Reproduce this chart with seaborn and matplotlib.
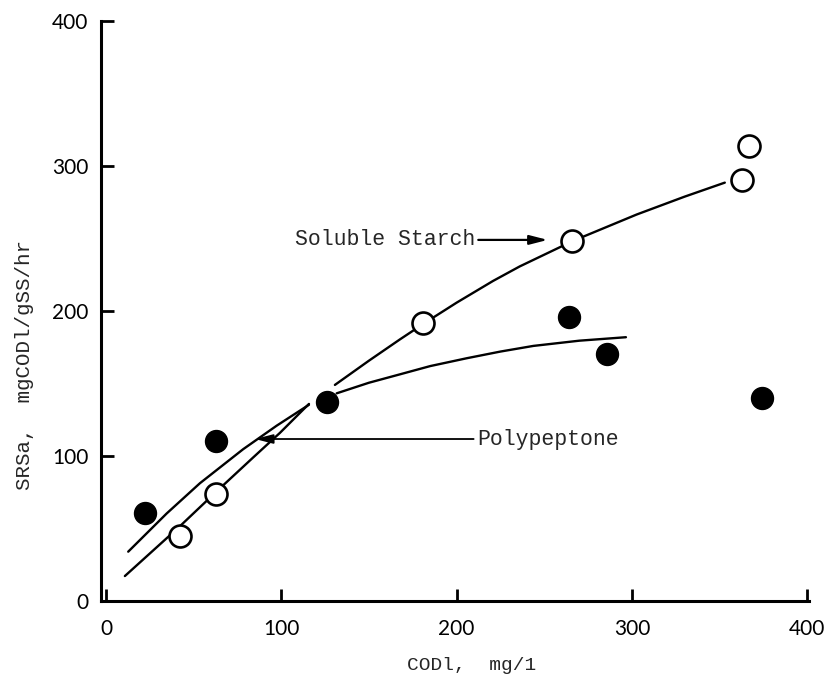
import matplotlib
matplotlib.use("Agg")
import matplotlib.pyplot as plt
import seaborn as sns

# --- data ---
starch_x = [42, 63, 181, 266, 363, 367]
starch_y = [45, 74, 192, 248, 290, 314]
pep_x = [22, 63, 126, 264, 286, 374]
pep_y = [61, 110, 137, 196, 170, 140]

# hand-drawn fitted curves, each in two pieces
starch_curve1_x = [10.8, 41.7, 63.5, 84, 99.3, 115.8]
starch_curve1_y = [17.2, 51, 76, 99, 116, 135.9]
starch_curve2_x = [130.6, 150, 167.7, 181.4, 200, 220.8, 236, 266.4, 302.7, 330, 353]
starch_curve2_y = [149, 165.7, 180.4, 191.4, 205.7, 220.7, 230.7, 248.3, 266.5, 278.8, 288.5]
pep_curve1_x = [12.7, 34.6, 53.6, 78.3, 97.4, 115.8]
pep_curve1_y = [34, 60.3, 81.2, 104.7, 120.9, 135.3]
pep_curve2_x = [131.6, 150, 167.7, 185, 205.8, 225, 243.8, 270, 296.6]
pep_curve2_y = [143.2, 150.5, 156.3, 162, 167.4, 172, 175.9, 179.5, 181.9]

x_ticks = [0, 100, 200, 300, 400]
y_ticks = [0, 100, 200, 300, 400]
x_label = "CODl,  mg/1"
y_label = "SRSa,  mgCODl/gSS/hr"
starch_label = "Soluble Starch"
pep_label = "Polypeptone"

sns.set_style("ticks")
plt.rcParams["font.family"] = ["Lato", "DejaVu Sans"]

fig = plt.figure(figsize=(8.28, 6.8), dpi=100)
ax = fig.add_axes([0.1216, 0.1162, 0.8554, 0.8530])

lw = 1.7
for cx, cy in [(starch_curve1_x, starch_curve1_y), (starch_curve2_x, starch_curve2_y),
               (pep_curve1_x, pep_curve1_y), (pep_curve2_x, pep_curve2_y)]:
    sns.lineplot(x=cx, y=cy, ax=ax, color="black", linewidth=lw, sort=False,
                 estimator=None, zorder=2)

sns.scatterplot(x=pep_x, y=pep_y, ax=ax, s=250, color="black",
                edgecolor="black", linewidth=1.0, zorder=3)
sns.scatterplot(x=starch_x, y=starch_y, ax=ax, s=250, facecolor="white",
                edgecolor="black", linewidth=1.9, zorder=3)

mono = "Liberation Mono"
ax.annotate(starch_label, xy=(252, 249), xytext=(210.5, 249),
            ha="right", va="center", fontsize=15.5, family=mono,
            arrowprops=dict(arrowstyle="-|>,head_length=0.7,head_width=0.18",
                            color="black", lw=1.6, shrinkA=0, shrinkB=0))
ax.annotate(pep_label, xy=(85, 111.7), xytext=(211.6, 111.7),
            ha="left", va="center", fontsize=15.5, family=mono,
            arrowprops=dict(arrowstyle="-|>,head_length=0.7,head_width=0.18",
                            color="black", lw=1.3, shrinkA=0, shrinkB=0))

ax.set_xlim(-3, 401)
ax.set_ylim(0, 400)
ax.set_xticks(x_ticks)
ax.set_yticks(y_ticks)
ax.set_xticklabels([str(v) for v in x_ticks])
ax.set_yticklabels([str(v) for v in y_ticks])
ax.tick_params(axis="both", direction="in", length=9, width=2, color="black",
               labelsize=15, labelcolor="black")
ax.tick_params(axis="x", pad=13)
ax.tick_params(axis="y", pad=9)
sns.despine(ax=ax)
for s in ["left", "bottom"]:
    ax.spines[s].set_linewidth(2.2)
    ax.spines[s].set_color("black")
ax.set_xlabel("")
ax.set_ylabel("")

fig.text(472 / 828, 1 - 665 / 680, x_label, ha="center", va="center",
         fontsize=14, family=mono)
fig.text(25 / 828, 1 - 365 / 680, y_label, ha="center", va="center",
         rotation=90, fontsize=15, family=mono)

fig.savefig("out.png", dpi=100)
